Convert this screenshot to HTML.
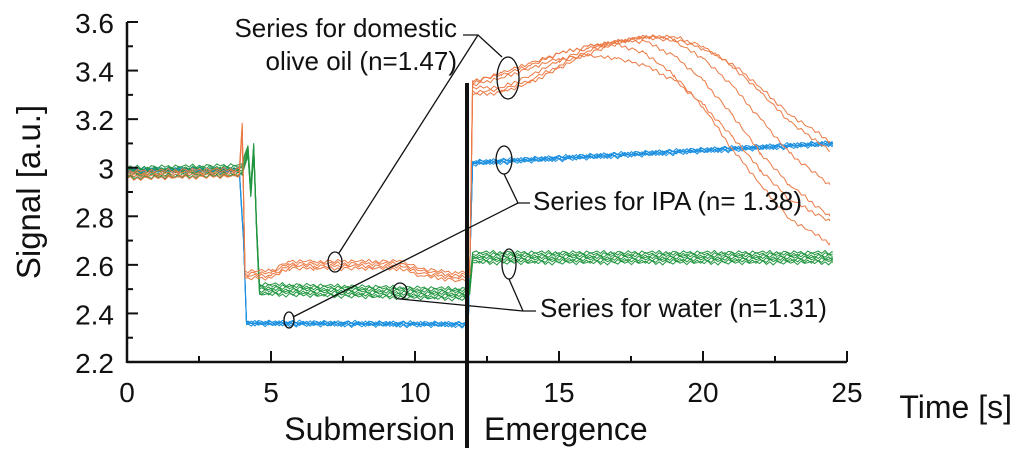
<!DOCTYPE html>
<html><head><meta charset="utf-8"><style>
body{margin:0;background:#fff;}
svg{display:block;font-family:"Liberation Sans",Arial,sans-serif;}
</style></head><body>
<svg id="chart" width="1024" height="459" viewBox="0 0 1024 459">
<g id="marks"></g>
<g id="axes"></g>
<g id="annot"></g>
</svg>
<script>
const xTicks=[0,5,10,15,20,25];
const yTicks=[2.2,2.4,2.6,2.8,3,3.2,3.4,3.6];
const yTickLabels=["2.2","2.4","2.6","2.8","3","3.2","3.4","3.6"];
// IPA (blue) mean curve
const ipaT=[0,3.9,4.05,4.15,11.7,11.85,12.0,24.5];
const ipaV=[2.99,2.99,2.7,2.36,2.355,2.36,3.02,3.10];
const ipaOffsets=[-0.01,-0.005,0,0.005,0.01];
// water (green) mean curve
const waterT=[0,4.0,4.2,4.3,4.4,4.5,4.6,11.8,11.9,12.0,24.5];
const waterV=[2.98,2.99,3.07,2.9,3.08,2.75,2.5,2.48,2.5,2.63,2.63];
const waterOffsets=[-0.03,-0.02,-0.01,0,0.01,0.02,0.03];
// oil (orange) submersion curve
const oilSubT=[0,3.9,4.0,4.1,5.0,5.6,6.5,9.5,10.2,11.5,11.9];
const oilSubV=[2.97,2.98,3.17,2.56,2.56,2.6,2.6,2.6,2.57,2.55,2.56];
const oilSubOffsets=[-0.015,-0.005,0.005,0.015];
// oil emergence traces
const oilEmT=[12,13,14,15,16,17,18,19,20,21,22,23,24.4];
const oilEm1=[3.36,3.38,3.42,3.47,3.50,3.51,3.47,3.38,3.25,3.08,2.93,2.79,2.69];
const oilEm2=[3.33,3.33,3.38,3.44,3.49,3.52,3.52,3.46,3.36,3.22,3.06,2.93,2.80];
const oilEm3=[3.31,3.32,3.36,3.42,3.48,3.52,3.54,3.52,3.45,3.34,3.20,3.06,2.93];
const oilEm4=[3.30,3.31,3.35,3.41,3.47,3.51,3.54,3.54,3.50,3.42,3.31,3.19,3.07];
const oilEm5=[3.35,3.39,3.43,3.47,3.50,3.52,3.54,3.53,3.49,3.43,3.33,3.22,3.11];
const oilEm6=[3.34,3.37,3.41,3.45,3.46,3.45,3.42,3.36,3.26,3.13,2.99,2.87,2.78];
const jitter=[0,0.006,-0.004,0.008,-0.007,0.003,-0.009,0.005,0.002,-0.006,0.007,-0.002,0.004,-0.008,0.006,-0.003];

const X0=127,X1=847,Y0=362,Y1=22;
const xs=t=>X0+(t-0)*(X1-X0)/25;
const ys=v=>Y0-(v-2.2)*(Y0-Y1)/1.4;
const NS="http://www.w3.org/2000/svg";
function mk(tag,attrs,parent){const e=document.createElementNS(NS,tag);for(const k in attrs)e.setAttribute(k,attrs[k]);parent.appendChild(e);return e;}
function interp(T,V,t){for(let i=1;i<T.length;i++){if(t<=T[i]){const f=(t-T[i-1])/(T[i]-T[i-1]||1);return V[i-1]+f*(V[i]-V[i-1]);}}return V[V.length-1];}
const marks=document.getElementById('marks');
function trace(T,V,off,seed,color,step){
  let pts=[];let k=seed;
  let times=[];for(let t=T[0];t<T[T.length-1];t+=step)times.push(t);
  T.forEach(t=>times.push(t));times.sort((a,b)=>a-b);
  times.forEach(t=>{k++;const isKey=T.some(q=>Math.abs(q-t)<1e-9);const j=isKey?0:jitter[k%jitter.length];pts.push(xs(t).toFixed(1)+','+ys(interp(T,V,t)+off+j).toFixed(1));});
  const p=mk('polyline',{points:pts.join(' '),fill:'none',stroke:color,'stroke-width':1},marks);
  return p;
}
ipaOffsets.forEach((o,i)=>{const p=trace(ipaT,ipaV,o*0.6,i*3,'#1a8fe0',0.12);

});
waterOffsets.forEach((o,i)=>{const p=trace(waterT,waterV,o*0.7,i*5,'#22963f',0.12);

});
oilSubOffsets.forEach((o,i)=>{const p=trace(oilSubT,oilSubV,o,i*7,'#ec7a45',0.12);

});
[oilEm1,oilEm2,oilEm3,oilEm4,oilEm5,oilEm6].forEach((arr,i)=>{
  const T=[11.9].concat(oilEmT),V=[2.56].concat(arr);
  const p=trace(T,V,0,i*4,'#ec7a45',0.12);
  
  
});
const axes=document.getElementById('axes');
let a=mk('line',{x1:X0,y1:Y0,x2:X1,y2:Y0,stroke:'#111','stroke-width':2.5},axes);


a=mk('line',{x1:X0,y1:Y0+1,x2:X0,y2:Y1,stroke:'#111','stroke-width':2.5},axes);


for(let t=0;t<=25;t+=2.5){const major=(t%5===0);mk('line',{x1:xs(t),y1:Y0,x2:xs(t),y2:Y0-(major?11:6),stroke:'#111','stroke-width':2},axes);}
for(let v=2.2;v<=3.61;v+=0.1){const major=Math.round(v*10)%2===0;mk('line',{x1:X0,y1:ys(v),x2:X0+(major?11:6),y2:ys(v),stroke:'#111','stroke-width':2},axes);}
xTicks.forEach(t=>{const e=mk('text',{x:xs(t),y:402,'font-size':28,'text-anchor':'middle',fill:'#111'},axes);e.textContent=t;

});
yTicks.forEach((v,i)=>{const e=mk('text',{x:114,y:ys(v)+11,'font-size':28,'text-anchor':'end',fill:'#111'},axes);e.textContent=yTickLabels[i];

});
</script>
<script>
const an=document.getElementById('annot');
function A(tag,attrs,name){const e=document.createElementNS("http://www.w3.org/2000/svg",tag);for(const k in attrs)e.setAttribute(k,attrs[k]);an.appendChild(e);

return e;}
const ln={fill:'none',stroke:'#111','stroke-width':1.3};
A('line',Object.assign({x1:467,y1:83,x2:467,y2:448},{stroke:'#111','stroke-width':4}),'phase-divider');
A('ellipse',Object.assign({cx:335,cy:262,rx:7,ry:10},ln),'oil-ellipse-1');
A('ellipse',Object.assign({cx:508,cy:78,rx:11,ry:21},ln),'oil-ellipse-2');
A('ellipse',Object.assign({cx:289,cy:320,rx:5,ry:8},ln),'ipa-ellipse-1');
A('ellipse',Object.assign({cx:504,cy:160,rx:8,ry:14},ln),'ipa-ellipse-2');
A('ellipse',Object.assign({cx:400,cy:291,rx:7,ry:8},ln),'water-ellipse-1');
A('ellipse',Object.assign({cx:509,cy:264,rx:7,ry:15},ln),'water-ellipse-2');
A('polyline',Object.assign({points:'463,35 478,35 502,57'},ln),'oil-leader-a');
A('polyline',Object.assign({points:'478,35 339,253'},ln),'oil-leader-b');
A('polyline',Object.assign({points:'504,174 518,203 530,203'},ln),'ipa-leader-a');
A('polyline',Object.assign({points:'518,203 293,317'},ln),'ipa-leader-b');
A('polyline',Object.assign({points:'509,279 523,311 536,311'},ln),'water-leader-a');
A('polyline',Object.assign({points:'523,311 400,299'},ln),'water-leader-b');
function T(x,y,s,txt,anchor,name){const e=A('text',{x:x,y:y,'font-size':s,fill:'#111','text-anchor':anchor||'start'},name);e.textContent=txt;return e;}
T(457,37,26,'Series for domestic','end','oil-label-line1');
T(457,70,26,'olive oil (n=1.47)','end','oil-label-line2');
T(533,210,26,'Series for IPA (n= 1.38)','start','ipa-label');
T(540,317,26,'Series for water (n=1.31)','start','water-label');
T(455,440,32,'Submersion','end','submersion-label');
T(484,440,32,'Emergence','start','emergence-label');
T(1012,418,32,'Time [s]','end','x-axis-title');
const yt=T(0,0,33,'Signal  [a.u.]','middle','y-axis-title');
yt.setAttribute('transform','translate(40,192) rotate(-90)');
</script>
</body></html>
